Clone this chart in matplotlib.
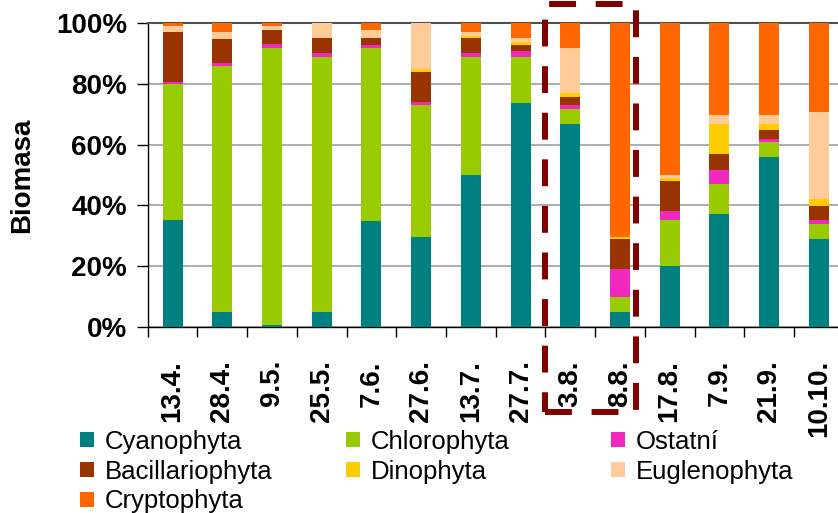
import numpy as np
import matplotlib
matplotlib.use('Agg')
import matplotlib.pyplot as plt
from matplotlib.patches import Rectangle

plt.rcParams['font.family'] = ['Liberation Sans', 'DejaVu Sans']

# odběry
datumy = ['13.4.', '28.4.', '9.5.', '25.5.', '7.6.', '27.6.', '13.7.', '27.7.',
          '3.8.', '8.8.', '17.8.', '7.9.', '21.9.', '10.10.']

# podíly biomasy v %
cyanophyta = [35.0, 4.8, 0.7, 4.8, 34.9, 29.6, 50.0, 73.7, 66.8, 4.8, 20.0, 37.1, 55.9, 28.9]
chlorophyta = [45.1, 81.2, 91.3, 84.1, 57.1, 43.4, 38.9, 15.2, 5.0, 5.0, 15.2, 9.9, 5.0, 4.9]
ostatni = [0.7, 0.9, 1.3, 1.3, 0.9, 1.0, 1.3, 2.0, 1.3, 9.2, 2.9, 4.6, 1.1, 1.4]
bacillariophyta = [16.3, 7.9, 4.5, 5.0, 2.3, 10.0, 5.0, 2.0, 2.6, 9.9, 9.9, 5.3, 2.8, 4.6]
dinophyta = [0.0, 0.0, 0.0, 0.0, 0.0, 0.9, 0.6, 0.9, 1.3, 0.7, 1.0, 9.9, 2.0, 2.3]
euglenophyta = [2.0, 2.3, 1.3, 4.8, 2.6, 15.1, 1.3, 1.4, 14.9, 0.0, 1.0, 3.0, 3.0, 28.7]
cryptophyta = [0.9, 2.9, 0.9, 0.0, 2.2, 0.0, 2.9, 4.8, 8.1, 70.4, 50.0, 30.2, 30.2, 29.2]

skupiny = ['Cyanophyta', 'Chlorophyta', 'Ostatní', 'Bacillariophyta',
           'Dinophyta', 'Euglenophyta', 'Cryptophyta']
hodnoty = [cyanophyta, chlorophyta, ostatni, bacillariophyta,
           dinophyta, euglenophyta, cryptophyta]
barvy = ['#008080', '#99cc00', '#f028c0', '#993300', '#ffcc00', '#ffcc99', '#ff6600']

fig = plt.figure(figsize=(8.38, 5.13), dpi=100)
ax = fig.add_axes([0.1763, 0.3632, 0.8305, 0.5914])

x = np.arange(len(datumy))
data = np.array(hodnoty)
data = data / data.sum(axis=0) * 100
spodek = np.zeros(len(datumy))
sloupce = {}
for jm, h, b in zip(skupiny, data, barvy):
    sloupce[jm] = ax.bar(x, h, 0.4, bottom=spodek, color=b, zorder=3, label=jm)
    spodek = spodek + h

ax.set_xlim(-0.5, len(datumy) - 0.5)
ax.set_ylim(0, 100)
ax.set_yticks([0, 20, 40, 60, 80, 100])
ax.set_yticklabels(['0%', '20%', '40%', '60%', '80%', '100%'],
                   fontsize=20, fontweight='bold')
ax.yaxis.grid(True, color='#a8a8a8', lw=1.3, zorder=1)
ax.tick_params(axis='y', length=8, width=1, pad=7, direction='out')

ax.set_xticks(np.arange(-0.5, len(datumy)))
ax.set_xticklabels([])
ax.tick_params(axis='x', which='major', length=7, width=1, direction='out')
ax.set_xticks(x, minor=True)
ax.set_xticklabels(datumy, minor=True, rotation=90, fontsize=20,
                   fontweight='bold', va='top', ha='center')
ax.tick_params(axis='x', which='minor', length=0, pad=24)

ax.spines['right'].set_visible(False)
ax.spines['top'].set_color('#505050')
ax.spines['top'].set_linewidth(1.5)
ax.spines['left'].set_linewidth(1)
ax.spines['bottom'].set_linewidth(1)

ax.set_ylabel('Biomasa', fontsize=20, fontweight='bold')
ax.yaxis.set_label_coords(-0.162, 0.5)

# legenda ve třech sloupcích jako v Excelu
sl = [['Cyanophyta', 'Bacillariophyta', 'Cryptophyta'],
      ['Chlorophyta', 'Dinophyta'],
      ['Ostatní', 'Euglenophyta']]
xs = [80, 346, 611]
for col, x0 in zip(sl, xs):
    fig.legend([sloupce[c] for c in col], col, loc='upper left',
               bbox_to_anchor=(x0 / 838, 1 - 430 / 513), frameon=False,
               fontsize=18.5, handlelength=0.53, handleheight=0.53,
               handletextpad=0.45, labelspacing=0.22, borderpad=0,
               borderaxespad=0)

# vyznačené období
ramecek = Rectangle((545 / 838, 1 - 412 / 513), (636 - 545) / 838, (412 - 3.5) / 513,
                    transform=fig.transFigure, fill=False, edgecolor='#800000',
                    lw=4.3, linestyle=(0, (4.5, 3.3)), clip_on=False, zorder=10)
fig.patches.append(ramecek)

fig.savefig('out.png', dpi=100)
